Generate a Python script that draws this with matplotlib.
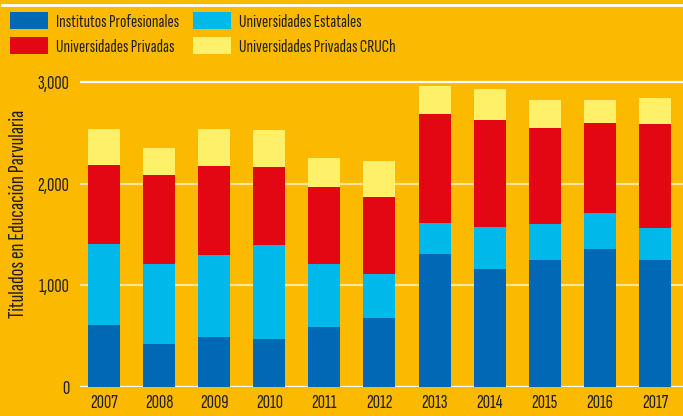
import matplotlib
matplotlib.use("Agg")
import matplotlib.pyplot as plt
from matplotlib.lines import Line2D
import numpy as np

years = ["2007", "2008", "2009", "2010", "2011", "2012", "2013", "2014", "2015", "2016", "2017"]
institutos = [608, 421, 490, 470, 588, 677, 1308, 1160, 1249, 1357, 1249]
estatales = [798, 788, 808, 926, 621, 433, 305, 414, 354, 355, 315]
privadas = [779, 877, 877, 769, 759, 760, 1074, 1054, 946, 886, 1024]
cruch = [355, 266, 365, 365, 286, 354, 276, 306, 276, 227, 257]

series = [
    ("Institutos Profesionales", institutos, "#0068B4"),
    ("Universidades Estatales", estatales, "#00B9EB"),
    ("Universidades Privadas", privadas, "#E30613"),
    ("Universidades Privadas CRUCh", cruch, "#FFF06A"),
]
yticks = [0, 1000, 2000, 3000]
ytick_labels = ["0", "1,000", "2,000", "3,000"]
ylabel = "Titulados en Educación Parvularia"

BG = "#FBBA00"
TXT = "#231F20"
FONT = ["Sofia Sans Extra Condensed", "DejaVu Sans"]
plt.rcParams["font.family"] = FONT
plt.rcParams["font.weight"] = 500

W, H = 683, 416
fig = plt.figure(figsize=(W / 100, H / 100), dpi=100, facecolor=BG)
ax = fig.add_axes([80 / W, 1 - 386.7 / H, 1 - 80 / W, (386.7 - 78.2) / H])
ax.set_facecolor(BG)

x = np.arange(len(years))
bottom = np.zeros(len(years))
handles = {}
for name, vals, col in series:
    b = ax.bar(x, vals, width=0.58, bottom=bottom, color=col, zorder=3, linewidth=0)
    handles[name] = b
    bottom += np.array(vals)

ax.set_xlim(-0.436, 10.51)
ax.set_ylim(0, 3040)
for v in yticks:
    c = "white" if v in (0, 3000) else "#FFE49A"
    ax.axhline(v, color=c, lw=1.6, zorder=2)

ax.set_yticks(yticks)
ax.set_yticklabels(ytick_labels)
ax.set_xticks(x)
ax.set_xticklabels(years)
ax.tick_params(length=0, colors=TXT, labelsize=14.5)
ax.tick_params(axis="y", pad=7.5)
ax.tick_params(axis="x", pad=5)
for s in ax.spines.values():
    s.set_visible(False)

fig.text(19 / W, 1 - 214 / H, ylabel, rotation=90, ha="center", va="center",
         fontsize=16.5, color=TXT)

# top white line
fig.add_artist(Line2D([2 / W, 1], [1 - 5 / H, 1 - 5 / H], color="white", lw=2, transform=fig.transFigure))

order = ["Institutos Profesionales", "Universidades Privadas", "Universidades Estatales", "Universidades Privadas CRUCh"]
fs = 13.5
leg = fig.legend([handles[n] for n in order], order, ncol=2, loc="upper left",
                 bbox_to_anchor=(10 / W, 1 - 12 / H), frameon=False, fontsize=fs,
                 handlelength=2.03, handleheight=1.05, handletextpad=0.43,
                 columnspacing=0.75, labelspacing=0.35, borderpad=0, borderaxespad=0)
for t in leg.get_texts():
    t.set_color(TXT)

fig.savefig("out.png", dpi=100, facecolor=BG)
